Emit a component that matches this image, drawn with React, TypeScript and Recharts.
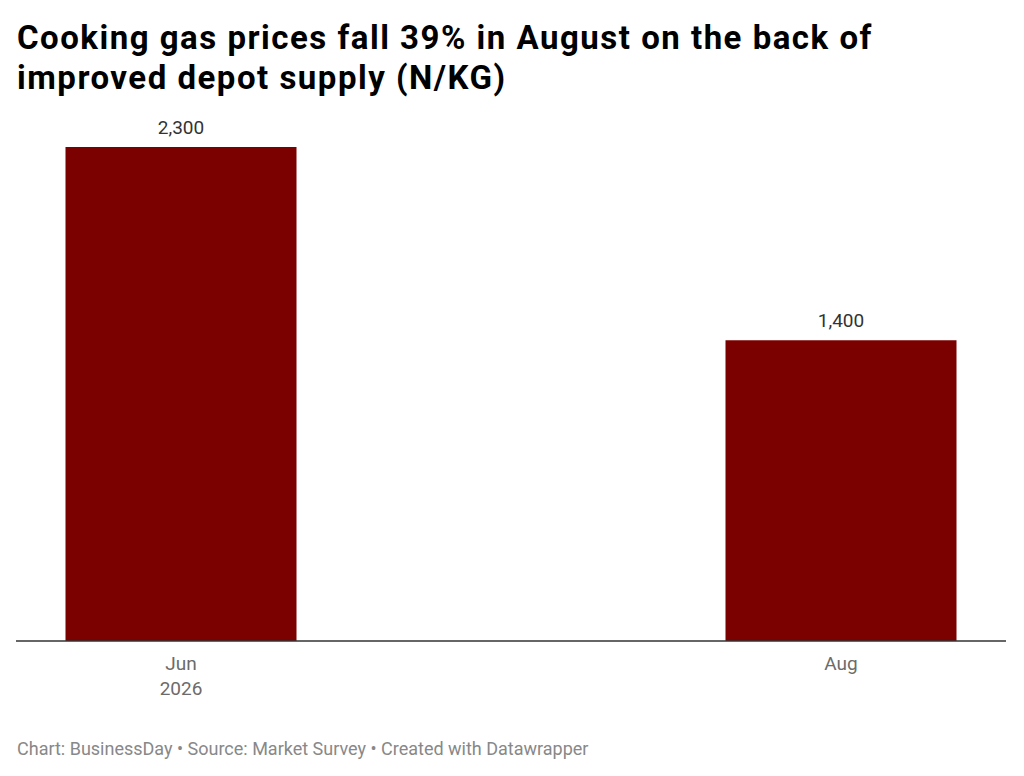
import React from 'react';
import { BarChart, Bar, XAxis, YAxis, LabelList } from 'recharts';

// Datos de la gráfica (N/KG)
const categories = ['Jun', 'Jul', 'Aug'];
const prices: (number | null)[] = [2300, null, 1400];
const tickLines: string[][] = [['Jun', '2026'], [], ['Aug']];

const title = 'Cooking gas prices fall 39% in August on the back of improved depot supply (N/KG)';
const footer = 'Chart: BusinessDay • Source: Market Survey • Created with Datawrapper';

const data = categories.map((month, i) => ({ month, price: prices[i] }));

const MonthTick = (props: any) => {
  const { x, y, index } = props;
  const lines = tickLines[index] || [];
  return (
    <g>
      {lines.map((line, i) => (
        <text
          key={i}
          x={x}
          y={y + 21 + i * 25}
          textAnchor="middle"
          fill="#6b6b6b"
          fontSize={19}
          fontFamily="Roboto"
        >
          {line}
        </text>
      ))}
    </g>
  );
};

export default function App() {
  return (
    <div
      style={{
        position: 'absolute',
        top: 0,
        left: 0,
        width: 1024,
        height: 776,
        background: '#ffffff',
        fontFamily: 'Roboto',
      }}
    >
      <div
        style={{
          position: 'absolute',
          top: 18,
          left: 17,
          width: 900,
          fontSize: 33,
          lineHeight: '40px',
          letterSpacing: 1.5,
          fontWeight: 700,
          color: '#000000',
        }}
      >
        {title}
      </div>
      <div style={{ position: 'absolute', top: 110, left: 0 }}>
        <BarChart
          width={1024}
          height={611}
          data={data}
          margin={{ top: 37, right: 18, bottom: 0, left: 16 }}
          barCategoryGap="15%"
        >
          <XAxis
            dataKey="month"
            axisLine={{ stroke: '#333333', strokeWidth: 1.5 }}
            tickLine={false}
            height={80}
            tick={<MonthTick />}
            interval={0}
          />
          <YAxis hide domain={[0, 2300]} />
          <Bar dataKey="price" fill="#7b0000" isAnimationActive={false}>
            <LabelList
              dataKey="price"
              position="top"
              offset={13}
              fill="#333333"
              fontSize={19}
              fontFamily="Roboto"
              formatter={(v: any) => (v == null ? '' : Number(v).toLocaleString('en-US'))}
            />
          </Bar>
        </BarChart>
      </div>
      <div
        style={{
          position: 'absolute',
          top: 738,
          left: 17,
          fontSize: 18,
          color: '#888888',
        }}
      >
        {footer}
      </div>
    </div>
  );
}
